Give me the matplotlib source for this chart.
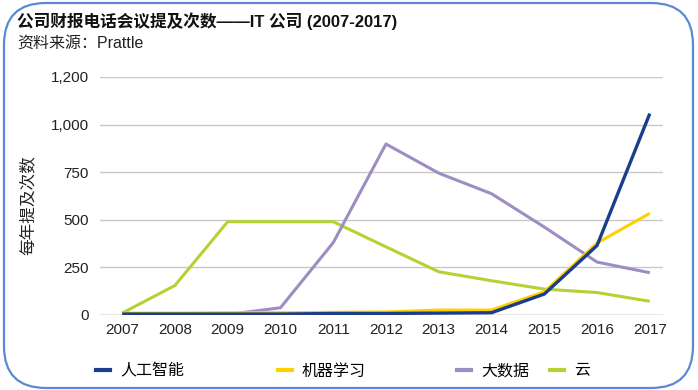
import matplotlib
matplotlib.use("Agg")
import matplotlib.pyplot as plt
from matplotlib.patches import FancyBboxPatch
from matplotlib.lines import Line2D

plt.rcParams['font.family'] = ['Liberation Sans', 'Noto Sans CJK SC', 'DejaVu Sans']

years = [2007, 2008, 2009, 2010, 2011, 2012, 2013, 2014, 2015, 2016, 2017]
ai = [5, 5, 5, 5, 8, 8, 10, 12, 110, 365, 1058]
ml = [10, 10, 12, 12, 14, 16, 26, 26, 122, 378, 534]
bigdata = [0, 0, 3, 38, 380, 898, 745, 637, 462, 278, 222]
cloud = [10, 155, 490, 490, 490, 358, 227, 180, 136, 118, 72]

series_names = ['人工智能', '机器学习', '大数据', '云']
colors = ['#1B3E8C', '#FFD000', '#9E8DC2', '#B3D334']

ytick_vals = [0, 250, 500, 750, 1000, 1250]
ytick_labels = ['0', '250', '500', '750', '1,000', '1,200']

title = '公司财报电话会议提及次数——IT 公司 (2007-2017)'
subtitle = '资料来源：Prattle'
ylabel = '每年提及次数'

fig = plt.figure(figsize=(6.98, 3.90), dpi=100)
ax = fig.add_axes([100/698, 1-315/390, (663-100)/698, (315-77)/390])

ax.plot(years, cloud, color=colors[3], lw=2.2, solid_capstyle='butt', zorder=3)
ax.plot(years, bigdata, color=colors[2], lw=2.2, solid_capstyle='butt', zorder=3)
ax.plot(years, ml, color=colors[1], lw=2.2, solid_capstyle='butt', zorder=4)
ax.plot(years, ai, color=colors[0], lw=2.4, solid_capstyle='butt', zorder=5)

ax.set_xlim(2006.58, 2017.25)
ax.set_ylim(0, 1250)
ax.set_yticks(ytick_vals)
ax.set_yticklabels(ytick_labels)
ax.set_xticks(years)
ax.set_xticklabels([str(y) for y in years])
ax.tick_params(axis='both', length=0, labelsize=11, colors='#222222')
ax.tick_params(axis='y', pad=8)
ax.tick_params(axis='x', pad=6)
ax.grid(axis='y', color='#C8C8C8', lw=1.0, zorder=0)
for s in ax.spines.values():
    s.set_visible(False)
ax.axhline(0, color='#B0B0B0', lw=1.0, zorder=1)
ax.set_ylabel(ylabel, fontsize=12, color='#222222', labelpad=10)
ax.yaxis.set_label_coords(-0.115, 0.46)

fig.text(17/698, 1-21/390, title, fontsize=12, fontweight='bold', ha='left', va='center', color='#111111')
fig.text(17/698, 1-43/390, subtitle, fontsize=11.5, ha='left', va='center', color='#222222')

leg_x = [96, 278, 457, 550]
for name, c, x in zip(series_names, colors, leg_x):
    h = Line2D([0], [0], color=c, lw=3)
    fig.legend([h], [name], loc='center left', bbox_to_anchor=(x/698, 1-371/390),
               frameon=False, fontsize=11.5, handlelength=0.9, handletextpad=0.6,
               borderaxespad=0, borderpad=0)

box = FancyBboxPatch((4/698, 2/390), (693-4)/698, (387-2)/390,
                     boxstyle='round,pad=0,rounding_size=0.06', transform=fig.transFigure,
                     fill=False, edgecolor='#5B8AD2', lw=1.6, mutation_aspect=698/390)
fig.patches.append(box)

fig.savefig('out.png', dpi=100)
